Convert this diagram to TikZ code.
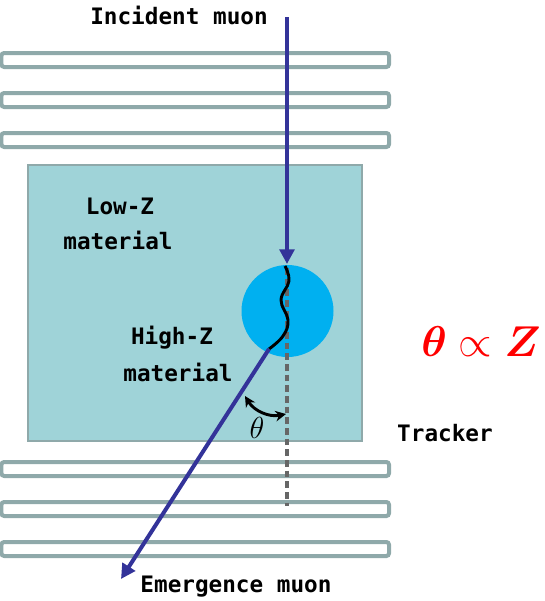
\documentclass[tikz,border=0pt]{standalone}
\usepackage{fontspec}
\usepackage{bm}
\newfontfamily\labelfont{DejaVu Sans Mono}
\usetikzlibrary{arrows.meta}
\definecolor{plateedge}{HTML}{8FA9AA}
\definecolor{boxfill}{HTML}{9FD3D8}
\definecolor{ballfill}{HTML}{00B0F0}
\definecolor{muon}{HTML}{333399}
\definecolor{dashgray}{HTML}{666666}
\begin{document}
\begin{tikzpicture}[x=0.75pt,y=-0.75pt,
  plate/.style={draw=plateedge,line width=3pt,fill=white,rounded corners=2pt},
  lbl/.style={font=\labelfont\bfseries\fontsize{17}{20}\selectfont,inner sep=0pt,align=center},
  muonpath/.style={draw=muon,line width=3pt},
  muontip/.style={-{Triangle[length=11pt,width=11pt]}}]
\useasboundingbox (0,0) rectangle (544,601);
% trackers
\foreach \y in {53,93,133,462,502,542}{
  \draw[plate] (1.5,\y) rectangle (389,\y+14);
}
% low-Z block
\draw[draw=plateedge,line width=2.2pt,fill=boxfill] (28,165) rectangle (362,441);
% high-Z ball
\node[circle,fill=ballfill,minimum size=92*0.75pt,inner sep=0pt] (ball) at (287.5,311) {};
% dashed reference line
\coordinate (hit) at (287,264);
\coordinate (dashend) at (287,506);
\draw[dashgray,line width=3pt,dash pattern=on 5pt off 3pt] (287,268) -- (dashend);
% incident muon
\coordinate (inTop) at (287,17);
\draw[muonpath,muontip] (inTop) -- (hit);
% wiggle inside ball
\coordinate (exitpt) at (269,349);
\draw[black,line width=2.2pt] plot[smooth,tension=0.7] coordinates {(285,266) (289,281) (281,300) (288,320) (283,336) (exitpt)};
% emergent muon
\coordinate (outTip) at (121,579);
\draw[muonpath,muontip] (exitpt) -- (outTip);
% angle
\coordinate (angA) at (245,396);
\coordinate (angB) at (286,414);
\draw[black,line width=2.2pt,{Stealth[length=8pt,width=8pt]}-{Stealth[length=8pt,width=8pt]}] (angA) to[bend right=35] (angB);
\node[font=\fontsize{20}{24}\selectfont,inner sep=0pt,scale=1.1] (thetalbl) at (257,428) {$\theta$};
% labels
\node[lbl] (incident) at (179,15) {Incident muon};
\node[lbl] (lowz) at (120,206) {Low-Z};
\node[lbl] (lowzm) at (118,240) {material};
\node[lbl] (highz) at (172,338) {High-Z};
\node[lbl] (highzm) at (178,372) {material};
\node[lbl] (tracker) at (445,433) {Tracker};
\node[lbl] (emerge) at (236,587) {Emergence muon};
\node[red,inner sep=0pt,font=\fontsize{24.88}{30}\selectfont,scale=1.3] (law) at (481,342) {$\bm{\theta}\propto\bm{Z}$};
\end{tikzpicture}
\end{document}
